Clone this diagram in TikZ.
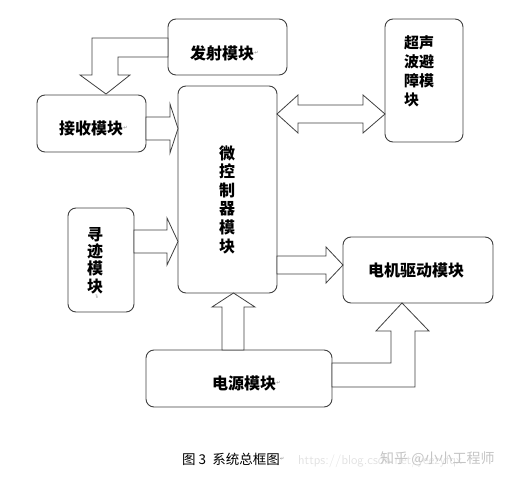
\documentclass[tikz,border=0pt]{standalone}
\usepackage{fontspec}
\newfontfamily\cjk{Noto Sans CJK SC}
\newfontfamily\dv{DejaVu Sans}
\definecolor{edge}{HTML}{404040}
\definecolor{wm}{HTML}{C4C4C4}
\definecolor{wmlight}{HTML}{E2E2E2}
\begin{document}
\begin{tikzpicture}[x=1pt,y=1pt,
  box/.style={draw=edge, line width=0.9pt, rounded corners=8pt, fill=white, inner sep=0pt},
  lbl/.style={font=\cjk\bfseries\fontsize{16}{18.6}\selectfont, text=black, inner sep=0pt},
  barrow/.style={draw=edge, line width=0.8pt, fill=white, line join=miter},
  ret/.style={font=\dv\fontsize{5}{5}\selectfont, text=gray, inner sep=0pt}]
\useasboundingbox (0,0) rectangle (519,482);

% boxes
\node[box, minimum width=119, minimum height=56] (fs) at (227.5,435) {};
\node[box, minimum width=109, minimum height=57] (js) at (91.5,358.5) {};
\node[box, minimum width=99, minimum height=207] (mcu) at (227.5,292.5) {};
\node[box, minimum width=78, minimum height=123] (cs) at (424,401.5) {};
\node[box, minimum width=66, minimum height=104] (xj) at (101,222) {};
\node[box, minimum width=150, minimum height=66] (dj) at (418,212) {};
\node[box, minimum width=186, minimum height=57] (dy) at (239,103.5) {};

% labels
\node[lbl] (fst) at (222,429) {发射模块};
\node[ret, anchor=west] at (fst.east) {↵};
\node[lbl] (jst) at (91,354) {接收模块};
\node[ret, anchor=west] at (jst.east) {↵};
\node[lbl, font=\cjk\bfseries\fontsize{15}{19}\selectfont, align=left, anchor=north west] (cst) at (404,447)
  {超声\\波避\\障模\\块};
\node[lbl, align=center] (mcut) at (227,282.5) {微\\控\\制\\器\\模\\块};
\node[ret, rotate=90] at (230,252) {↵};
\node[lbl, align=center, font=\cjk\bfseries\fontsize{16}{17.3}\selectfont] (xjt) at (95,221.5) {寻\\迹\\模\\块};
\node[ret, rotate=90] at (97,186) {↵};
\node[lbl] (djt) at (416,212) {电机驱动模块};
\node[lbl] (dyt) at (244,99) {电源模块};
\node[ret, anchor=west] at (dyt.east) {↵};

% block arrows
% 发射 -> 接收
\draw[barrow] (168,444) -- (92,444) -- (92,407) -- (80,407) -- (106,388) -- (130,407)
  -- (118,407) -- (118,425) -- (168,425) -- cycle;
% 接收 -> 微控制器
\draw[barrow] (146,365) -- (170,365) -- (170,378) -- (178,353.5) -- (170,329) -- (170,342)
  -- (146,342) -- cycle;
% 微控制器 <-> 超声波
\draw[barrow] (277,368) -- (298,387) -- (298,377) -- (363,377) -- (363,387) -- (385,368)
  -- (363,349) -- (363,359) -- (298,359) -- (298,349) -- cycle;
% 寻迹 -> 微控制器
\draw[barrow] (134,252) -- (167,252) -- (167,264) -- (178,240.5) -- (167,217) -- (167,229)
  -- (134,229) -- cycle;
% 微控制器 -> 电机驱动
\draw[barrow] (277,226) -- (326,226) -- (326,235) -- (343,217) -- (326,199) -- (326,208)
  -- (277,208) -- cycle;
% 电源 -> 微控制器
\draw[barrow] (222,132) -- (222,175) -- (212,175) -- (233.5,189) -- (255,175) -- (244,175)
  -- (244,132) -- cycle;
% 电源 -> 电机驱动
\draw[barrow] (332,119) -- (391,119) -- (391,151) -- (376,151) -- (402,179) -- (429,151)
  -- (415,151) -- (415,95) -- (332,95) -- cycle;

% caption and watermark
\node[font=\sffamily\fontsize{13}{13}\selectfont, text=wmlight, anchor=west, inner sep=0pt] (url) at (298,21) {https://blog.csdn.net/yeezyfqx};
\node[font=\cjk\fontsize{13.5}{13.5}\selectfont, inner sep=0pt, anchor=west] (cap) at (182,23) {图 3\ \ 系统总框图};
\node[ret, anchor=west] at (cap.east) {↵};
\node[font=\cjk\fontsize{14}{14}\selectfont, text=wm, anchor=west, inner sep=0pt] (zh) at (380,23) {知乎 @小小工程师};
\end{tikzpicture}
\end{document}
